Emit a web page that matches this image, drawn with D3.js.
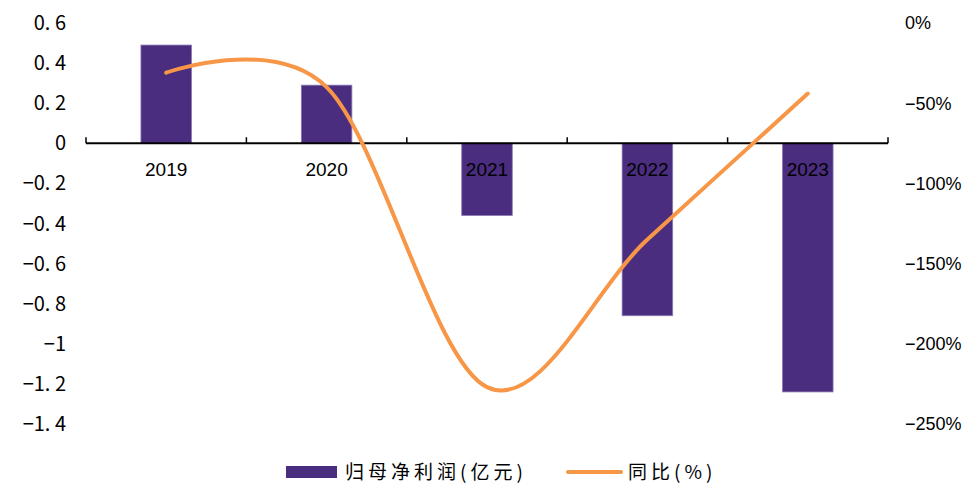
<!DOCTYPE html>
<html>
<head>
<meta charset="utf-8">
<script src="https://cdn.jsdelivr.net/npm/d3@7"></script>
<style>
  body { margin: 0; background: #fff; }
  text { fill: #000; }
</style>
</head>
<body>
<svg width="971" height="483"></svg>
<script>
var years = ["2019", "2020", "2021", "2022", "2023"];
var profit = [0.49, 0.29, -0.36, -0.86, -1.24];
var yoy = [-31, -40, -227, -135, -44];
var leftTicks = [0.6, 0.4, 0.2, 0, -0.2, -0.4, -0.6, -0.8, -1, -1.2, -1.4];
var rightTicks = [0, -50, -100, -150, -200, -250];

var width = 971;
var height = 483;
var plot = { left: 86, right: 888, top: 23, bottom: 424 };
var cjk = "'Noto Sans CJK SC', sans-serif";
var latin = "'Liberation Sans', Arial, sans-serif";

var svg = d3.select("svg");

var xScale = d3.scaleBand().domain(years).range([plot.left, plot.right]).paddingInner(0.685).paddingOuter(0.3425);
var yLeft = d3.scaleLinear().domain([-1.4, 0.6]).range([plot.bottom, plot.top]);
var yRight = d3.scaleLinear().domain([-250, 0]).range([plot.bottom, plot.top]);

function fmtLeft(d) {
  var s = d === 0 ? "0" : String(Math.abs(d)).replace(".", ". ");
  return (d < 0 ? "\u2212" : "") + s;
}

// left axis labels
svg.append("g").selectAll("text")
  .data(leftTicks).enter().append("text")
  .attr("x", 66)
  .attr("y", function (d) { return yLeft(d); })
  .attr("dy", "0.35em")
  .attr("text-anchor", "end")
  .style("font-family", cjk)
  .style("font-size", "20px")
  .text(fmtLeft);

// right axis labels
svg.append("g").selectAll("text")
  .data(rightTicks).enter().append("text")
  .attr("x", 905)
  .attr("y", function (d) { return yRight(d); })
  .attr("dy", "0.35em")
  .style("font-family", latin)
  .style("font-size", "18px")
  .text(function (d) { return (d < 0 ? "\u2212" + Math.abs(d) : d) + "%"; });

// bars
svg.append("g").selectAll("rect")
  .data(years).enter().append("rect")
  .attr("x", function (d) { return xScale(d); })
  .attr("width", xScale.bandwidth())
  .attr("y", function (d, i) { return yLeft(Math.max(0, profit[i])); })
  .attr("height", function (d, i) { return Math.abs(yLeft(profit[i]) - yLeft(0)); })
  .attr("fill", "#4b2d7f")
  .attr("stroke", "#8a78b4")
  .attr("stroke-width", 0.8);

// category axis
var step = xScale.step();
var axis = svg.append("g");
axis.append("line")
  .attr("x1", plot.left).attr("x2", plot.right)
  .attr("y1", yLeft(0)).attr("y2", yLeft(0))
  .attr("stroke", "#000").attr("stroke-width", 2);
axis.selectAll(".tick")
  .data(d3.range(years.length + 1)).enter().append("line")
  .attr("x1", function (i) { return plot.left + i * step; })
  .attr("x2", function (i) { return plot.left + i * step; })
  .attr("y1", yLeft(0)).attr("y2", yLeft(0) - 6)
  .attr("stroke", "#000").attr("stroke-width", 1.5);
axis.selectAll(".cat")
  .data(years).enter().append("text")
  .attr("x", function (d) { return xScale(d) + xScale.bandwidth() / 2; })
  .attr("y", yLeft(0) + 26)
  .attr("dy", "0.35em")
  .attr("text-anchor", "middle")
  .style("font-family", latin)
  .style("font-size", "19px")
  .text(function (d) { return d; });

// yoy line
var line = d3.line()
  .x(function (d, i) { return xScale(years[i]) + xScale.bandwidth() / 2; })
  .y(function (d) { return yRight(d); })
  .curve(d3.curveCardinal.tension(0));
svg.append("path")
  .datum(yoy)
  .attr("d", line)
  .attr("fill", "none")
  .attr("stroke", "#f79646")
  .attr("stroke-width", 4)
  .attr("stroke-linecap", "round");

// legend
var legend = svg.append("g");
legend.append("rect")
  .attr("x", 286).attr("y", 466).attr("width", 51).attr("height", 12)
  .attr("fill", "#4b2d7f");
legend.append("text")
  .attr("x", 345).attr("y", 472).attr("dy", "0.35em")
  .style("font-family", cjk)
  .style("font-size", "19px")
  .style("letter-spacing", "4px")
  .text("归母净利润(亿元)");
legend.append("line")
  .attr("x1", 568).attr("x2", 621).attr("y1", 472).attr("y2", 472)
  .attr("stroke", "#f79646").attr("stroke-width", 4).attr("stroke-linecap", "round");
legend.append("text")
  .attr("x", 628).attr("y", 472).attr("dy", "0.35em")
  .style("font-family", cjk)
  .style("font-size", "19px")
  .style("letter-spacing", "4px")
  .text("同比(%)");
</script>
</body>
</html>
